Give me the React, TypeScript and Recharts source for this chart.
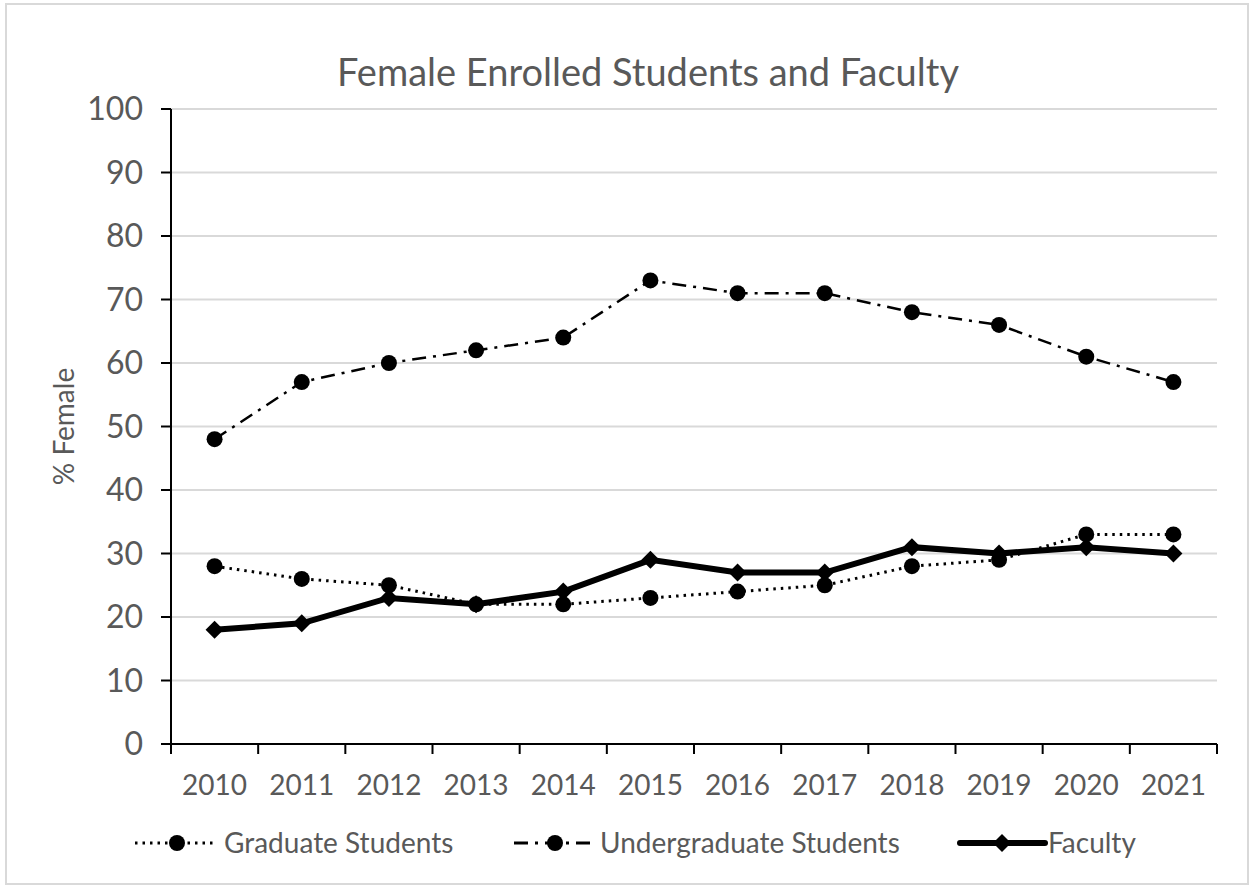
import { LineChart, Line, XAxis, YAxis, CartesianGrid, Label } from 'recharts';

const years = ['2010', '2011', '2012', '2013', '2014', '2015', '2016', '2017', '2018', '2019', '2020', '2021'];
const graduate = [28, 26, 25, 22, 22, 23, 24, 25, 28, 29, 33, 33];
const undergraduate = [48, 57, 60, 62, 64, 73, 71, 71, 68, 66, 61, 57];
const faculty = [18, 19, 23, 22, 24, 29, 27, 27, 31, 30, 31, 30];
const yTicks = [0, 10, 20, 30, 40, 50, 60, 70, 80, 90, 100];

const data = years.map((year, i) => ({
  year,
  graduate: graduate[i],
  undergraduate: undergraduate[i],
  faculty: faculty[i],
}));

const W = 1252;
const H = 886;
const Y_AXIS_W = 171;
const X_AXIS_H = 60;
const M = { top: 109, right: 35, bottom: 142 - X_AXIS_H, left: 0 };
const band = (W - Y_AXIS_W - M.right) / years.length;
const FONT = 'Lato, "Open Sans", sans-serif';
const GRAY = '#595959';

const GRAD_DASH = '2.5 5';
const UG_DASH = '14 7 3 7';

function Diamond(props: any) {
  const { cx, cy } = props;
  if (cx == null || cy == null) return null;
  const s = 9;
  return <polygon points={`${cx},${cy - s} ${cx + s},${cy} ${cx},${cy + s} ${cx - s},${cy}`} fill="#000" />;
}

function XTick(props: any) {
  const { x, y, payload, index } = props;
  const axisY = y - 8;
  return (
    <g>
      <line x1={x - band / 2} y1={axisY} x2={x - band / 2} y2={axisY + 10} stroke="#000" strokeWidth={2} />
      {index === years.length - 1 && (
        <line x1={x + band / 2} y1={axisY} x2={x + band / 2} y2={axisY + 10} stroke="#000" strokeWidth={2} />
      )}
      <text x={x} y={axisY + 51} textAnchor="middle" fill={GRAY} fontSize={28} fontFamily={FONT}>
        {payload.value}
      </text>
    </g>
  );
}

function LegendBox() {
  const cy = 20;
  return (
    <svg width={W} height={50} style={{ position: 'absolute', left: 0, top: 823, display: 'block', overflow: 'visible' }}>
      <g>
        <line x1={135} y1={cy} x2={215} y2={cy} stroke="#000" strokeWidth={3} strokeDasharray={GRAD_DASH} />
        <circle cx={177} cy={cy} r={8} fill="#000" />
        <text x={224} y={cy + 10} fill={GRAY} fontSize={28} fontFamily={FONT}>Graduate Students</text>
      </g>
      <g>
        <line x1={514} y1={cy} x2={596} y2={cy} stroke="#000" strokeWidth={3} strokeDasharray={UG_DASH} />
        <circle cx={555} cy={cy} r={8} fill="#000" />
        <text x={600} y={cy + 10} fill={GRAY} fontSize={28} fontFamily={FONT}>Undergraduate Students</text>
      </g>
      <g>
        <line x1={960} y1={cy} x2={1045} y2={cy} stroke="#000" strokeWidth={6} strokeLinecap="round" />
        <polygon points={`1002,${cy - 9} 1011,${cy} 1002,${cy + 9} 993,${cy}`} fill="#000" />
        <text x={1048} y={cy + 10} fill={GRAY} fontSize={28} fontFamily={FONT}>Faculty</text>
      </g>
    </svg>
  );
}

export default function App() {
  return (
    <div style={{ position: 'absolute', left: 0, top: 0, width: W, height: H, background: '#fff' }}>
      <div
        style={{
          position: 'absolute',
          left: 5,
          top: 3,
          width: 1244,
          height: 882,
          border: '2px solid #d9d9d9',
          boxSizing: 'border-box',
        }}
      />
      <div
        style={{
          position: 'absolute',
          left: 0,
          top: 48,
          width: 1296,
          textAlign: 'center',
          fontFamily: FONT,
          fontSize: 38,
          color: GRAY,
          lineHeight: '46px',
        }}
      >
        Female Enrolled Students and Faculty
      </div>
      <LineChart width={W} height={H} data={data} margin={M} style={{ position: 'absolute', left: 0, top: 0 }}>
        <CartesianGrid vertical={false} stroke="#d9d9d9" strokeWidth={2} />
        <XAxis
          dataKey="year"
          height={X_AXIS_H}
          padding={{ left: band / 2, right: band / 2 }}
          axisLine={{ stroke: '#000', strokeWidth: 2 }}
          tickLine={false}
          tick={<XTick />}
          interval={0}
        />
        <YAxis
          domain={[0, 100]}
          ticks={yTicks}
          interval={0}
          axisLine={{ stroke: '#000', strokeWidth: 2 }}
          tickLine={{ stroke: '#000', strokeWidth: 2 }}
          tickSize={10}
          tickMargin={18}
          tick={{ fill: GRAY, fontSize: 32, fontFamily: FONT }}
          width={Y_AXIS_W}
        >
          <Label
            value="%   Female"
            angle={-90}
            position="insideLeft"
            offset={64}
            style={{ fill: GRAY, fontSize: 28, fontFamily: FONT, textAnchor: 'middle', whiteSpace: 'pre' }}
          />
        </YAxis>
        <Line
          dataKey="graduate"
          stroke="#000"
          strokeWidth={3}
          strokeDasharray={GRAD_DASH}
          dot={{ r: 8, fill: '#000', stroke: 'none', strokeDasharray: '' }}
          isAnimationActive={false}
        />
        <Line
          dataKey="undergraduate"
          stroke="#000"
          strokeWidth={2.5}
          strokeDasharray={UG_DASH}
          dot={{ r: 8, fill: '#000', stroke: 'none', strokeDasharray: '' }}
          isAnimationActive={false}
        />
        <Line dataKey="faculty" stroke="#000" strokeWidth={6} dot={<Diamond />} isAnimationActive={false} />
      </LineChart>
      <LegendBox />
    </div>
  );
}
